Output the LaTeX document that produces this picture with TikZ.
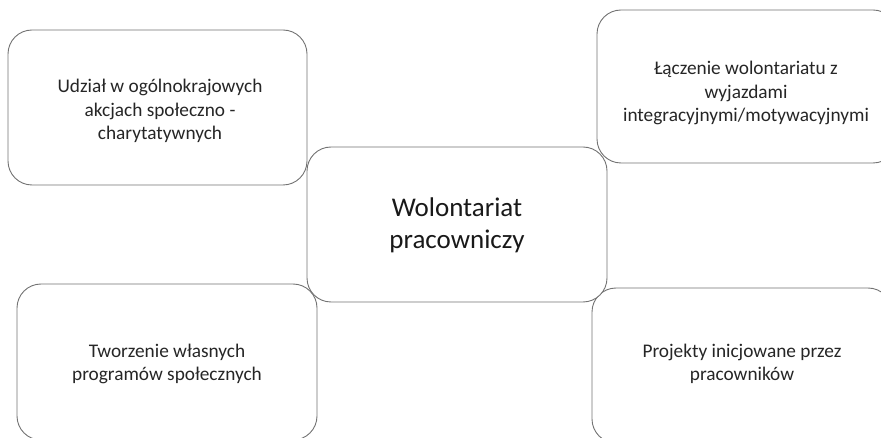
\documentclass[tikz,border=0pt]{standalone}
\usepackage{fontspec}
\setmainfont{Carlito}
\begin{document}
\begin{tikzpicture}[x=1pt,y=-1pt,
  card/.style={draw=black!55,line width=0.9pt,fill=white,rounded corners=24pt},
  lbl/.style={align=center,text=black!85,font=\fontsize{19.3}{23.5}\selectfont},
  biglbl/.style={align=center,text=black!90,font=\fontsize{27}{32}\selectfont}]
\useasboundingbox (0,0) rectangle (881,438);
\clip (0,0) rectangle (881,438);
\draw[card] (8,30) rectangle (307,185);
\draw[card] (597,10) rectangle (897,163);
\draw[card] (17,284) rectangle (317,440);
\draw[card] (592,288) rectangle (892,443);
\draw[card] (307,147) rectangle (607,302);
\node[lbl] (tl) at (160,111) {Udział w ogólnokrajowych\\akcjach społeczno -\\charytatywnych};
\node[lbl] (tr) at (746,93) {Łączenie wolontariatu z\\wyjazdami\\integracyjnymi/motywacyjnymi};
\node[biglbl] (c) at (457,225) {Wolontariat\\pracowniczy};
\node[lbl] (bl) at (167,364) {Tworzenie własnych\\programów społecznych};
\node[lbl] (br) at (742,364) {Projekty inicjowane przez\\pracowników};
\end{tikzpicture}
\end{document}
